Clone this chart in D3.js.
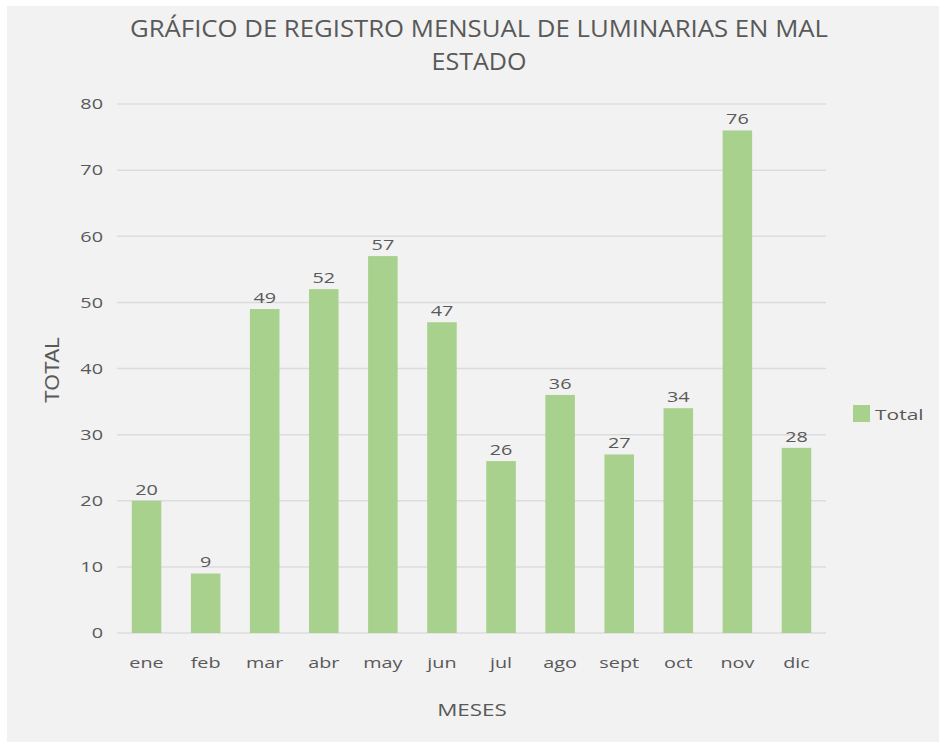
<!DOCTYPE html>
<html>
<head>
<meta charset="utf-8">
<script src="https://cdn.jsdelivr.net/npm/d3@7"></script>
<style>
  body { margin: 0; background: #fff; }
  text { font-family: "Open Sans", "DejaVu Sans", sans-serif; fill: #595959; }
</style>
</head>
<body>
<div id="chart"></div>
<script>
// monthly counts of broken street lights
const months = ["ene", "feb", "mar", "abr", "may", "jun", "jul", "ago", "sept", "oct", "nov", "dic"];
const totals = [20, 9, 49, 52, 57, 47, 26, 36, 27, 34, 76, 28];
const yTicks = [0, 10, 20, 30, 40, 50, 60, 70, 80];

const width = 939, height = 745;
const margin = {top: 104, right: 113, bottom: 112, left: 117};
const stretch = "scale(1.32,1)"; // the original picture is a bit wide

const svg = d3.select("#chart").append("svg")
  .attr("width", width)
  .attr("height", height);

// chart background, white strip at the top and left
svg.append("rect")
  .attr("x", 7).attr("y", 6)
  .attr("width", width - 7).attr("height", height - 9)
  .attr("fill", "#f2f2f2");

const x = d3.scaleBand()
  .domain(months)
  .range([margin.left, width - margin.right])
  .paddingInner(0.5)
  .paddingOuter(0.25);

const y = d3.scaleLinear()
  .domain([0, 80])
  .range([height - margin.bottom, margin.top]);

// gridlines
svg.append("g")
  .selectAll("line")
  .data(yTicks)
  .join("line")
  .attr("x1", margin.left)
  .attr("x2", width - margin.right)
  .attr("y1", d => y(d))
  .attr("y2", d => y(d))
  .attr("stroke", "#dcdcdc")
  .attr("stroke-width", 1.5);

// y axis labels
const yAxis = svg.append("g")
  .attr("transform", "translate(" + (margin.left - 14) + ",0)")
  .call(d3.axisLeft(y).tickValues(yTicks).tickSize(0).tickPadding(0));
yAxis.select(".domain").remove();
yAxis.selectAll("text")
  .style("font-size", "15px")
  .attr("fill", "#595959")
  .attr("transform", stretch);

// bars
svg.append("g")
  .selectAll("rect")
  .data(totals)
  .join("rect")
  .attr("x", (d, i) => x(months[i]))
  .attr("y", d => y(d))
  .attr("width", x.bandwidth())
  .attr("height", d => y(0) - y(d))
  .attr("fill", "#a9d18e");

// value labels
svg.append("g")
  .selectAll("text")
  .data(totals)
  .join("text")
  .attr("transform", (d, i) => "translate(" + (x(months[i]) + x.bandwidth() / 2) + "," + (y(d) - 6) + ") " + stretch)
  .attr("text-anchor", "middle")
  .style("font-size", "15px")
  .attr("fill", "#404040")
  .text(d => d);

// x axis labels
const xAxis = svg.append("g")
  .attr("transform", "translate(0," + (y(0) + 24) + ")")
  .call(d3.axisBottom(x).tickSize(0).tickPadding(0));
xAxis.select(".domain").remove();
xAxis.selectAll("text")
  .style("font-size", "15px")
  .attr("fill", "#595959")
  .attr("transform", stretch);

// title
const title = svg.append("text")
  .attr("text-anchor", "middle")
  .style("font-size", "23px");
title.append("tspan").attr("x", 479).attr("y", 37)
  .attr("textLength", 698).attr("lengthAdjust", "spacingAndGlyphs")
  .text("GRÁFICO DE REGISTRO MENSUAL DE LUMINARIAS EN MAL");
title.append("tspan").attr("x", 479).attr("y", 70)
  .attr("textLength", 95).attr("lengthAdjust", "spacingAndGlyphs")
  .text("ESTADO");

// axis titles
svg.append("text")
  .attr("transform", "translate(472,716) " + stretch)
  .attr("text-anchor", "middle")
  .style("font-size", "17px")
  .text("MESES");

svg.append("text")
  .attr("transform", "translate(59,370) rotate(-90)")
  .attr("text-anchor", "middle")
  .style("font-family", "'Liberation Sans', Arial, sans-serif")
  .style("font-size", "21px")
  .text("TOTAL");

// legend
svg.append("rect")
  .attr("x", 853).attr("y", 405)
  .attr("width", 17).attr("height", 17)
  .attr("fill", "#a9d18e");
svg.append("text")
  .attr("transform", "translate(875,420) scale(1.4,1)")
  .style("font-size", "15px")
  .attr("fill", "#404040")
  .text("Total");
</script>
</body>
</html>
